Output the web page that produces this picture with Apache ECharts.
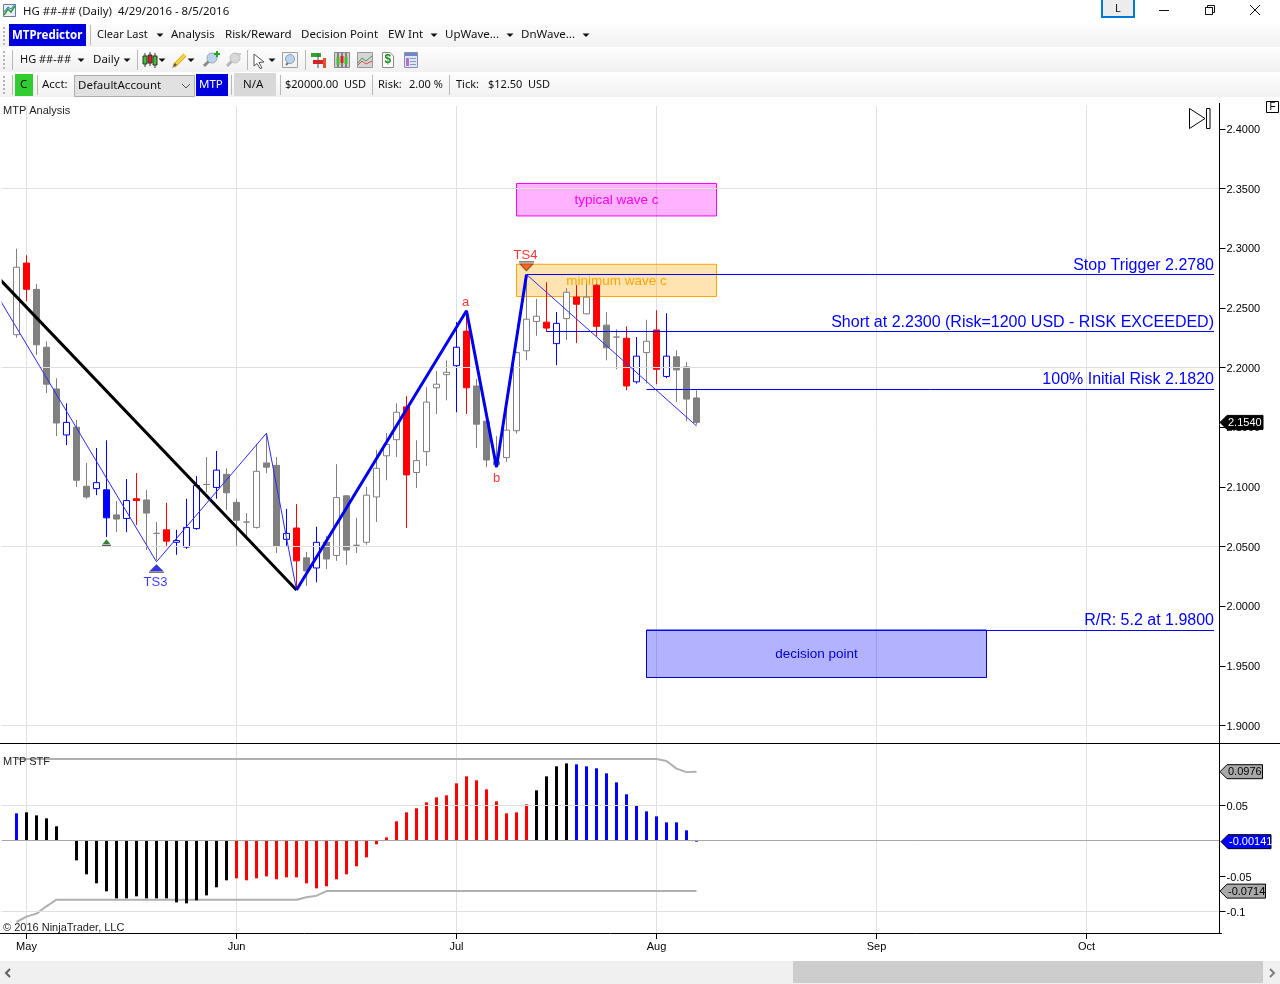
<!DOCTYPE html>
<html><head><meta charset="utf-8"><title>HG ##-## (Daily)</title>
<style>html,body{margin:0;padding:0;background:#fff}#c{width:1280px;height:984px}</style>
<script src="https://cdn.jsdelivr.net/npm/echarts@6/dist/echarts.min.js"></script></head>
<body><div id="c"></div>
<script>
// Month labels on the trading-day axis, by category position
const monthTicks = {3:'May',24:'Jun',46:'Jul',66:'Aug',88:'Sep',109:'Oct'};
const priceTicks = [1.9,1.95,2.0,2.05,2.1,2.15,2.2,2.25,2.3,2.35,2.4];
const stfTicks = [-0.1,-0.05,0.05];
// Daily bars 4/29/2016 - 8/5/2016
const opens  = [2.2275,2.2875,2.2655,2.217,2.182,2.1435,2.15,2.1005,2.0985,2.0975,2.0765,2.0735,2.09,2.089,2.061,2.064,2.0535,2.0495,2.065,2.102,2.0995,2.1105,2.087,2.0705,2.066,2.12,2.118,2.056,2.0655,2.0405,2.032,2.0535,2.0425,2.0925,2.051,2.0535,2.0915,2.126,2.1395,2.167,2.112,2.1295,2.183,2.194,2.2015,2.2305,2.1845,2.155,2.121,2.1245,2.147,2.214,2.2385,2.238,2.22,2.241,2.259,2.245,2.269,2.2355,2.2255,2.2245,2.188,2.2125,2.2315,2.1925,2.209,2.2005,2.1745];
const closes = [2.284,2.2655,2.219,2.186,2.1535,2.154,2.1055,2.0915,2.1035,2.074,2.073,2.0885,2.0885,2.078,2.061,2.0545,2.055,2.066,2.101,2.102,2.114,2.095,2.072,2.0705,2.113,2.1165,2.0505,2.061,2.038,2.0295,2.0535,2.0395,2.091,2.047,2.051,2.093,2.1155,2.1355,2.1625,2.11,2.122,2.171,2.186,2.196,2.217,2.183,2.1525,2.1225,2.1185,2.1475,2.2125,2.2405,2.243,2.233,2.237,2.263,2.253,2.259,2.2345,2.2165,2.2255,2.1845,2.2095,2.222,2.1985,2.2095,2.198,2.1735,2.154];
const lows   = [2.225,2.2555,2.2105,2.1785,2.1425,2.135,2.1,2.09,2.093,2.058,2.062,2.062,2.068,2.047,2.0385,2.0505,2.043,2.048,2.064,2.0955,2.09,2.0805,2.0505,2.0555,2.065,2.1115,2.0445,2.0505,2.0135,2.017,2.02,2.031,2.038,2.0345,2.0445,2.0515,2.0705,2.1055,2.125,2.0655,2.099,2.1175,2.161,2.1725,2.1625,2.161,2.1325,2.1165,2.1165,2.121,2.1445,2.206,2.2265,2.23,2.202,2.223,2.2205,2.2445,2.226,2.206,2.1985,2.181,2.1865,2.1865,2.186,2.191,2.171,2.155,2.152];
const highs  = [2.2995,2.294,2.27,2.222,2.191,2.17,2.156,2.12,2.1325,2.139,2.088,2.1065,2.1115,2.0975,2.0705,2.0865,2.064,2.09,2.109,2.125,2.13,2.1155,2.09,2.078,2.136,2.145,2.125,2.0815,2.0855,2.0455,2.0665,2.059,2.119,2.093,2.074,2.1,2.131,2.145,2.17,2.176,2.139,2.1835,2.197,2.206,2.238,2.2475,2.1905,2.1555,2.1425,2.1645,2.2135,2.2775,2.2575,2.2715,2.2465,2.2665,2.269,2.27,2.27,2.2465,2.232,2.2345,2.2255,2.24,2.248,2.2455,2.2145,2.2045,2.181];
// g = gray, r = red, b = blue candle
const barColours = 'grgggbggbb'+'gbrggrbbbg'+'bggggggbrg'+'bggggggggr'+'ggggbrgggg'+'gggrbgrgrg'+'grbgrbggg';
// Pivot lines: [category position, price]
const blackLine = [[0,2.2768],[30,2.0135]];
const thinBlueDown = [[0,2.2615],[16,2.0372],[27,2.145],[30,2.0135]];
const thickBlue = [[30,2.0135],[47,2.2475],[50,2.1165],[53,2.278]];
const thinBlueC = [[53,2.278],[70,2.151]];
const priceGrid = [2.35,2.2,2.05,1.9];
const stfGrid = [0.05,-0.1];
// MTP STF oscillator
const stfValues = [0.0387,0.0401,0.0358,0.0316,0.0203,-0.0005,-0.0278,-0.0476,-0.0604,-0.0717,-0.0816,-0.0816,-0.0788,-0.0816,-0.0816,-0.0816,-0.0873,-0.0887,-0.0844,-0.0774,-0.066,-0.0561,-0.0533,-0.0561,-0.0533,-0.0505,-0.0547,-0.0519,-0.0519,-0.0604,-0.0675,-0.0646,-0.0547,-0.0476,-0.0363,-0.0236,-0.0052,0.0047,0.0274,0.0401,0.0458,0.0542,0.0613,0.0642,0.0811,0.091,0.0854,0.0726,0.0557,0.0387,0.0401,0.0514,0.0712,0.091,0.1052,0.1094,0.108,0.1052,0.1024,0.0953,0.0825,0.0656,0.05,0.0415,0.0344,0.0259,0.0259,0.0146,-0.00141];
const stfColours = 'bkkkkkkkkk'+'kkkkkkkkkk'+'kkrrrrrrrr'+'rrrrrrrrrr'+'rrrrrrrrrr'+'rrkkkkbbbb'+'bbbbbbbbb';
const stfUpper = [0.1156,0.1156,0.1156,0.1156,0.1156,0.1156,0.1156,0.1156,0.1156,0.1156,0.1156,0.1156,0.1156,0.1156,0.1156,0.1156,0.1156,0.1156,0.1156,0.1156,0.1156,0.1156,0.1156,0.1156,0.1156,0.1156,0.1156,0.1156,0.1156,0.1156,0.1156,0.1156,0.1156,0.1156,0.1156,0.1156,0.1156,0.1156,0.1156,0.1156,0.1156,0.1156,0.1156,0.1156,0.1156,0.1156,0.1156,0.1156,0.1156,0.1156,0.1156,0.1156,0.1156,0.1156,0.1156,0.1156,0.1156,0.1156,0.1156,0.1156,0.1156,0.1156,0.1156,0.1156,0.1156,0.1127,0.1019,0.097,0.0976];
const stfLower = [-0.1151,-0.1075,-0.1033,-0.0929,-0.0835,-0.0835,-0.0835,-0.0835,-0.0835,-0.0835,-0.0835,-0.0835,-0.0835,-0.0835,-0.0835,-0.0835,-0.0835,-0.0835,-0.0835,-0.0835,-0.0835,-0.0835,-0.0835,-0.0835,-0.0835,-0.0835,-0.0835,-0.0835,-0.0835,-0.0802,-0.0778,-0.0714,-0.0714,-0.0714,-0.0714,-0.0714,-0.0714,-0.0714,-0.0714,-0.0714,-0.0714,-0.0714,-0.0714,-0.0714,-0.0714,-0.0714,-0.0714,-0.0714,-0.0714,-0.0714,-0.0714,-0.0714,-0.0714,-0.0714,-0.0714,-0.0714,-0.0714,-0.0714,-0.0714,-0.0714,-0.0714,-0.0714,-0.0714,-0.0714,-0.0714,-0.0714,-0.0714,-0.0714,-0.0714];
// Zones: [first category, last category, top price, bottom price]
const typicalZone = [52,72,2.3542,2.3270];
const minimumZone = [52,72,2.2865,2.2595];
const decisionZone = [65,99,1.98,1.9402];
// Level lines: [first category, price, label]
const levels = [[53,2.278,'Stop Trigger 2.2780'],[55,2.23,'Short at 2.2300 (Risk=1200 USD - RISK EXCEEDED)'],[65,2.182,'100% Initial Risk 2.1820'],[65,1.98,'R/R: 5.2 at 1.9800']];
// Text annotations: [category, price, text, colour, x shift]
const annotations = [[16,2.0203,'TS3','#0a0aff',-1],[53,2.2943,'TS4','#ff0000',-1],[47,2.2549,'a','#ff0000',-1],[50,2.1074,'b','#ff0000',0]];
// Last-value tags: [axis index, value, text, left, right, fill, text colour]
const tags = [[0,2.154,'2.1540',1220,1263,'#000','#fff'],[1,0.0976,'0.0976',1220,1262.5,'#a9a9a9','#000'],[1,-0.00141,'-0.00141',1221,1271,'#0000ff','#fff'],[1,-0.0714,'-0.0714',1220,1265.5,'#a9a9a9','#000']];

const FONT = '"Liberation Sans",Arial,sans-serif';
const UI = '"Noto Sans",Tahoma,sans-serif';
const categories = Array.from({length:123},(_,i)=>monthTicks[i]||('#'+i));
const isMonth = i => monthTicks[i]!==undefined;
const colourOf = {g:'#808080',r:'#ff0000',b:'#0000ff',k:'#000000'};
const pad = [null,null];

const candleData = [{value:['-','-','-','-']},{value:['-','-','-','-']}].concat(opens.map((o,i)=>{
  const c = colourOf[barColours[i]], hollow = closes[i]>opens[i];
  const f = hollow?'#fff':c;
  return {value:[o,closes[i],lows[i],highs[i]],itemStyle:{color:f,color0:f,borderColor:c,borderColor0:c,borderWidth:1}};
}));
const stfData = pad.concat(stfValues.map((v,i)=>({value:v,itemStyle:{color:colourOf[stfColours[i]]}})));
const toPairs = a => a.map((v,i)=>[i+2,v]);
const zoneItem = (z,name,col,fill,border,bw) => [
  {xAxis:z[0],yAxis:z[2],name,itemStyle:{color:fill,borderColor:border,borderWidth:bw},label:{show:true,position:'inside',offset:[0,1],color:col,fontSize:13.5,fontFamily:FONT,formatter:name}},
  {xAxis:z[1],yAxis:z[3]}];
const xBase = {type:'category',data:categories,boundaryGap:true,
  axisLine:{show:false},axisTick:{show:false},axisLabel:{show:false},
  splitLine:{show:true,alignWithLabel:true,interval:i=>isMonth(i),lineStyle:{color:'#e0e0e0',width:1}}};
const zig = (data,color,width) => ({type:'line',xAxisIndex:0,yAxisIndex:0,data,z:6,showSymbol:false,silent:true,symbol:'none',lineStyle:{color,width},animation:false});
const tickRich = shift => ({a:{padding:[shift,0,0,0],color:'#000',fontSize:11,fontFamily:FONT}});

const chart = echarts.init(document.getElementById('c'));
chart.setOption({
  animation:false,
  grid:[{left:-8.5,top:106,width:1230,height:637,outerBoundsMode:'none'},{left:-8.5,top:744,width:1230,height:189,outerBoundsMode:'none'}],
  xAxis:[Object.assign({gridIndex:0},xBase),
    Object.assign({gridIndex:1},xBase,{
      axisLine:{show:true,onZero:false,lineStyle:{color:'#000',width:1}},
      axisTick:{show:true,alignWithLabel:true,length:6,interval:i=>isMonth(i),lineStyle:{color:'#000'}},
      axisLabel:{show:true,interval:i=>isMonth(i),formatter:v=>v,color:'#000',fontSize:11,fontFamily:FONT,margin:8}})],
  yAxis:[
    {gridIndex:0,type:'value',position:'right',offset:-2,z:101,min:1.88533,max:2.41914,splitLine:{show:false},
     axisLine:{show:true,onZero:false,lineStyle:{color:'#000'}},
     axisTick:{show:true,length:6,customValues:priceTicks,lineStyle:{color:'#000'}},
     axisLabel:{show:true,customValues:priceTicks,formatter:v=>'{a|'+v.toFixed(4)+'}',rich:tickRich(2),color:'#000',fontSize:11,fontFamily:FONT,margin:7}},
    {gridIndex:1,type:'value',position:'right',offset:-2,z:101,min:-0.13066,max:0.1368,splitLine:{show:false},
     axisLine:{show:true,onZero:false,lineStyle:{color:'#000'}},
     axisTick:{show:true,length:6,customValues:stfTicks,lineStyle:{color:'#000'}},
     axisLabel:{show:true,customValues:stfTicks,formatter:v=>'{a|'+v+'}',rich:tickRich(3),color:'#000',fontSize:11,fontFamily:FONT,margin:7}}],
  series:[
    {type:'line',xAxisIndex:0,yAxisIndex:0,data:[],z:1,silent:true,
     markLine:{silent:true,symbol:'none',label:{show:false},animation:false,lineStyle:{color:'#e0e0e0',width:1,type:'solid'},data:priceGrid.map(v=>({yAxis:v}))}},
    {type:'candlestick',xAxisIndex:0,yAxisIndex:0,data:candleData,barWidth:7,z:3,silent:true},
    {type:'line',xAxisIndex:0,yAxisIndex:0,data:[],z:5,silent:true,
     markArea:{silent:true,animation:false,data:[
       zoneItem(typicalZone,'typical wave c','#ff00ff','rgba(255,0,255,0.3)','#ff00ff',1),
       zoneItem(minimumZone,'minimum wave c','#ffa500','rgba(255,165,0,0.3)','#ffa500',1),
       zoneItem(decisionZone,'decision point','#0000cc','rgba(0,0,255,0.3)','#0000cc',1)]},
     markLine:{silent:true,symbol:'none',animation:false,lineStyle:{color:'#0000ff',width:1,type:'solid'},
       data:levels.map(l=>[
         {xAxis:l[0],yAxis:l[1],name:l[2],label:{show:true,position:'insideEndTop',distance:[0,1],formatter:l[2],color:'#0000ff',fontSize:16,fontFamily:FONT,padding:0}},
         {x:1214,yAxis:l[1]}])}},
    zig(blackLine,'#000000',3),
    zig(thinBlueDown,'#2a2aff',1),
    zig(thickBlue,'#0000f0',3),
    zig(thinBlueC,'#2a2aff',1),
    {type:'scatter',xAxisIndex:0,yAxisIndex:0,z:7,silent:true,symbolSize:0,
     data:annotations.map(a=>({value:[a[0],a[1]],label:{show:true,position:'inside',offset:[a[4],0],formatter:a[2],color:a[3],fontSize:13,fontFamily:FONT}}))},
    // signal triangles and their base ticks
    {type:'scatter',xAxisIndex:0,yAxisIndex:0,z:7,silent:true,
     data:[
       {value:[11,2.0539],symbol:'triangle',symbolSize:[8,5],itemStyle:{color:'#006400'}},
       {value:[11,2.0510],symbol:'rect',symbolSize:[9,1],itemStyle:{color:'#000'}},
       {value:[16,2.0322],symbol:'triangle',symbolSize:[14,7],itemStyle:{color:'#0000e0'}},
       {value:[16,2.0285],symbol:'rect',symbolSize:[15,1],itemStyle:{color:'#000'}},
       {value:[53,2.2840],symbol:'triangle',symbolRotate:180,symbolSize:[13,7],itemStyle:{color:'#ff4500',borderColor:'#7a3a10',borderWidth:1}},
       {value:[53,2.2885],symbol:'rect',symbolSize:[15,1],itemStyle:{color:'#000'}}]},
    {type:'line',xAxisIndex:1,yAxisIndex:1,data:[],z:1,silent:true,
     markLine:{silent:true,symbol:'none',label:{show:false},animation:false,lineStyle:{type:'solid',width:1},
       data:stfGrid.map(v=>({yAxis:v,lineStyle:{color:'#e0e0e0'}})).concat([{yAxis:0,lineStyle:{color:'#a8a8a8'}}])}},
    {type:'bar',xAxisIndex:1,yAxisIndex:1,data:stfData,barWidth:3,z:3,silent:true},
    {type:'line',xAxisIndex:1,yAxisIndex:1,data:toPairs(stfUpper),z:2,symbol:'none',silent:true,lineStyle:{color:'#b0b0b0',width:2}},
    {type:'line',xAxisIndex:1,yAxisIndex:1,data:toPairs(stfLower),z:2,symbol:'none',silent:true,lineStyle:{color:'#b0b0b0',width:2}}
  ]
});

// ---- window chrome and value tags
const Z=100, els=[];
const rect=(x,y,w,h,fill,stroke,z)=>els.push({type:'rect',z:z||Z,silent:true,shape:{x,y,width:w,height:h},style:{fill:fill||'none',stroke:stroke||'none',lineWidth:1}});
const line=(x1,y1,x2,y2,c,lw,z)=>els.push({type:'line',z:z||Z,silent:true,shape:{x1,y1,x2,y2},style:{stroke:c,lineWidth:lw||1}});
const poly=(pts,fill,stroke,z,lw)=>els.push({type:'polygon',z:z||Z,silent:true,shape:{points:pts},style:{fill:fill||'none',stroke:stroke||'none',lineWidth:lw||1}});
const pline=(pts,c,lw)=>els.push({type:'polyline',z:Z,silent:true,shape:{points:pts},style:{fill:'none',stroke:c,lineWidth:lw||1}});
const circ=(cx,cy,r,fill,stroke)=>els.push({type:'circle',z:Z,silent:true,shape:{cx,cy,r},style:{fill:fill||'none',stroke:stroke||'none',lineWidth:1}});
const text=(x,y,t,font,fill,z)=>els.push({type:'text',z:z||Z+1,silent:true,x,y,style:{text:t,font,fill:fill||'#111',align:'left',verticalAlign:'middle'}});
const ui=(x,y,t,c,size)=>text(x,y+1,t,(size||11.5)+'px '+UI,c||'#111');
const drop=(x,y)=>poly([[x-3.5,y-1.5],[x+3.5,y-1.5],[x,y+2]],'#111');
const sep=(x,y)=>line(x+.5,y,x+.5,y+20,'#b8b8b8');
const grip=(x,y)=>{for(let i=0;i<5;i++)rect(x,y+i*4,2,2,'#b4b4b4');};

// masks at the plot edges
rect(0,100,1.7,833,'#fff');
rect(1220,100,2,833,'#fff');
line(0,933.5,2,933.5,'#000');
// labels in the plot
text(3,111,'MTP Analysis','11px '+FONT,'#222');
text(3,762,'MTP STF','11px '+FONT,'#222');
text(3,928,'© 2016 NinjaTrader, LLC','11px '+FONT,'#222');
// panel separator and axis stub
line(0,743.5,1280,743.5,'#000');
line(1219.5,103,1219.5,106,'#000',1,102);
// jump-to-end icon and F box
poly([[1189.5,108.5],[1205,118.5],[1189.5,128.5]],'#fff','#000');
rect(1206.5,108.5,3.5,20,'#fff','#000');
rect(1266.5,101.5,12,11,'#fff','#000');
text(1269.5,107,'F','10px '+FONT,'#000');
// title bar
rect(0,0,1280,24,'#fff');
rect(3.5,4.5,12,12,'#e8eef6','#6a7f95');
pline([[4,15],[8,9],[11,12],[15,6]],'#2e9b3c',1.5);
pline([[4,12],[8,7],[11,9],[15,4]],'#3070c8',1);
ui(23,11,'HG ##-## (Daily)  4/29/2016 - 8/5/2016','#111',11.4);
rect(1102,0,32,18,'#ececec',null);
els.push({type:'rect',z:Z,silent:true,shape:{x:1102,y:-1,width:32,height:18},style:{fill:'none',stroke:'#0078d7',lineWidth:2}});
text(1115,9,'L','11px '+UI,'#111');
line(1159,10.5,1169,10.5,'#111');
rect(1205.5,7.5,7,7,'#fff','#111'); rect(1207.5,5.5,7,7,'none','#111'); rect(1205.5,7.5,7,7,'#fff','#111');
line(1250,5,1260,15,'#111'); line(1260,5,1250,15,'#111');
// toolbars
const rowGrad={type:'linear',x:0,y:0,x2:0,y2:1,colorStops:[{offset:0,color:'#fdfdfd'},{offset:1,color:'#f1f1f1'}]};
[[24,24],[48,25],[73,25]].forEach(r=>rect(0,r[0],1280,r[1]-1,rowGrad));
rect(0,97,1280,3,'#fff');
// row 1
grip(3,27);
rect(9,24,77,22,'#0000dc');
text(12,36,'MTPredictor','bold 11.5px '+UI,'#fff');
sep(90,25);
ui(97,34,'Clear Last',null,11); drop(160,35);
ui(171,34,'Analysis'); ui(225,34,'Risk/Reward'); ui(301,34,'Decision Point');
ui(388,34,'EW Int'); drop(434,35); ui(445,34,'UpWave...'); drop(510,35); ui(521,34,'DnWave...'); drop(586,35);
// row 2
grip(3,51); sep(12,50);
ui(20,59,'HG ##-##',null,11); drop(81,60); ui(93,59,'Daily'); drop(127,60); sep(137,50);
[[145,'#42c02e',56,64],[150,'#e02020',55,63],[155,'#42c02e',56,65]].forEach(b=>{line(b[0],b[2]-3,b[0],b[3]+3,'#333');rect(b[0]-2,b[2],4,b[3]-b[2],b[1],'#333');});
drop(162,60);
line(174,66,185,55,'#e0b020',4); line(174,66,185,55,'#f5d94a',2); poly([[172,68],[175,63],[177,65]],'#555');
drop(191,60);
line(204,66,209,61,'#8a8a8a',3); circ(212,58,5,'#bcd3ee','#9aa7b5');
line(214,54,220,54,'#21a521',2); line(217,51,217,57,'#21a521',2);
line(227,66,232,61,'#b5b5b5',3); circ(235,58,5,'#d8d8d8','#c0c0c0'); line(236,54,241,54,'#c8c8c8',2);
sep(247,50);
poly([[254,54],[264,62],[259,62.5],[262,68],[260,68.5],[257,63.5],[254,66]],'#fff','#555');
drop(272,60);
rect(282.5,52.5,15,15,'#f4f4f4','#a0a0a0'); circ(290,59,4.5,'#bcd3ee','#8aa0b8'); line(286,65,288,63,'#777',2);
sep(305,50);
rect(311,53,10,4,'#2ea52e'); rect(313,60,10,4,'#e02020'); rect(323,58,3,10,'#e05030'); line(318,53,318,68,'#555');
rect(334.5,52.5,15,15,'#cfcfcf','#888');
[[338,'#42c02e',57,65],[342,'#e02020',56,63],[346,'#42c02e',57,64]].forEach(b=>{line(b[0],53,b[0],67,'#333');rect(b[0]-1.5,b[2],3,b[3]-b[2],b[1]);});
rect(357.5,52.5,15,15,'#d5d5d5','#999');
pline([[358,63],[362,58],[366,61],[372,56]],'#3fa04a'); pline([[358,65],[362,61],[366,64],[372,61]],'#d84a4a');
poly([[382.5,52.5],[390,52.5],[393.5,56],[393.5,67.5],[382.5,67.5]],'#fff','#888');
text(384.5,60,'$','bold 12px '+FONT,'#1c8a1c');
rect(404.5,52.5,13,15,'#dce6f5','#8a8fb0'); rect(405,53,12,3,'#6f88c8'); rect(406,58,3,8,'#b070d0');
for(let i=0;i<3;i++)line(410,58.5+i*3,416,58.5+i*3,'#8a9ac0');
// row 3
grip(3,76); sep(12,75);
rect(15,74,18,22,'#30cc30');
ui(20,84,'C'); sep(37,75);
ui(42,84,'Acct:');
rect(74.5,75.5,120,21,'#e1e1e1','#adadad');
ui(78,85,'DefaultAccount');
pline([[182,84],[186,88],[190,84]],'#555');
rect(196,74,32,22,'#0000dc');
ui(199,84,'MTP','#fff');
sep(231,75);
rect(234,73,42,23,'#d8d8d8');
ui(243,84,'N/A'); sep(280,75);
ui(285,84,'$20000.00',null,11); ui(344,84,'USD',null,11); sep(372,75);
ui(378,84,'Risk:',null,11); ui(409,84,'2.00 %',null,11); sep(449,75);
ui(456,84,'Tick:',null,11); ui(488,84,'$12.50',null,11); ui(528,84,'USD',null,11);
// scrollbar
rect(0,961,1280,23,'#f0f0f0');
rect(793,961,470,22,'#cdcdcd');
pline([[10,969],[6,973],[10,977]],'#606060',2);
pline([[1270,969],[1274,973],[1270,977]],'#808080',2);
// last-value tags
tags.forEach(t=>{
  const y=chart.convertToPixel({yAxisIndex:t[0]},t[1]);
  poly([[t[3],y],[t[3]+7,y-7],[t[4],y-7],[t[4],y+7],[t[3]+7,y+7]],t[5],'#000',110);
  els.push({type:'text',z:111,silent:true,x:t[3]+8,y:y+0.5,style:{text:t[2],font:'11px '+FONT,fill:t[6],align:'left',verticalAlign:'middle'}});
});
chart.setOption({graphic:{elements:els}});
</script></body></html>
